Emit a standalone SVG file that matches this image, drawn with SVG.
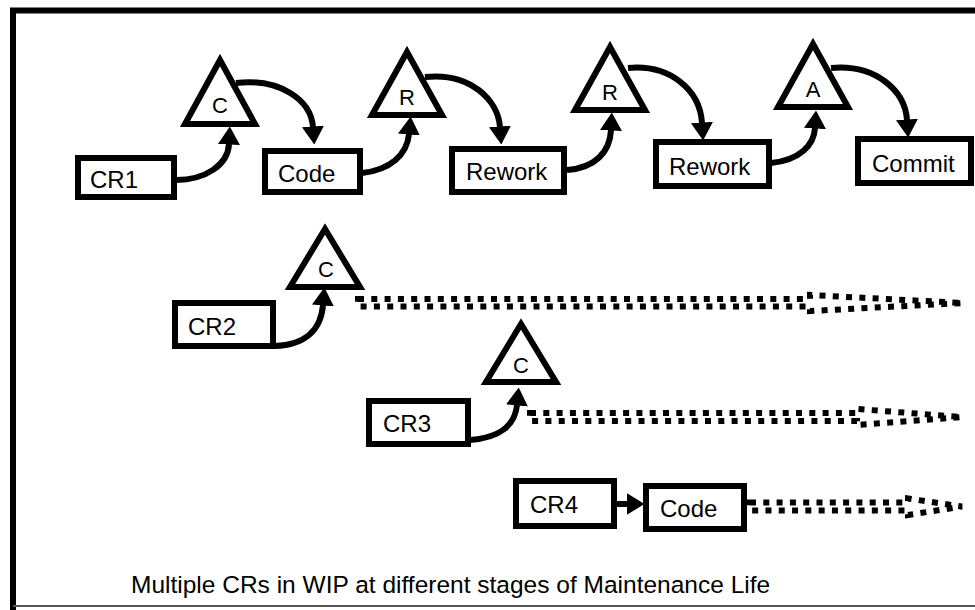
<svg xmlns="http://www.w3.org/2000/svg" width="975" height="610" viewBox="0 0 975 610">
<defs>
<marker id="ah" markerUnits="userSpaceOnUse" markerWidth="18" markerHeight="22" viewBox="0 0 18 22" refX="0.5" refY="11" orient="auto">
<path d="M0,0 L18,11 L0,22 Z" fill="#000"/>
</marker>
<style>
.box{fill:#fff;stroke:#000;stroke-width:6}
.tri{fill:#fff;stroke:#000;stroke-width:6;stroke-linejoin:miter}
.lbl{font-family:"Liberation Sans",Arial,sans-serif;font-size:24px;fill:#000}
.tl{font-family:"Liberation Sans",Arial,sans-serif;font-size:22px;fill:#000;text-anchor:middle}
.con{fill:none;stroke:#000;stroke-width:6;marker-end:url(#ah)}
.dot{fill:none;stroke:#000;stroke-width:6;stroke-dasharray:6 7.3}
</style>
</defs>
<rect width="975" height="610" fill="#fff"/>
<g id="frame">
<path d="M13,610 V10.5 H980" fill="none" stroke="#000" stroke-width="6"/>
<line x1="13" y1="606" x2="975" y2="606" stroke="#555" stroke-width="2"/>
</g>
<g id="connectors">
<path class="con" d="M176,180 C205,180 228,165 229,144"/>
<path class="con" d="M236,83 C280,78 311,100 313,127"/>
<path class="con" d="M362,173 C390,170 407,155 409,134"/>
<path class="con" d="M425,77 C470,72 498,100 500,127"/>
<path class="con" d="M567,170 C595,168 610,152 611,130"/>
<path class="con" d="M628,68 C670,64 700,90 702,123"/>
<path class="con" d="M771,163 C800,160 814,145 815,128"/>
<path class="con" d="M831,68 C875,64 905,90 907,120"/>
<path class="con" d="M275,346 C305,345 321,330 323,305"/>
<path class="con" d="M470,440 C500,438 515,425 517,405"/>
<path class="con" d="M616,504 H627"/>
<path class="dot" d="M358,299 H810 V295 L963,303 L810,311 V306.5 H358 Z"/>
<path class="dot" d="M530,413 H857 V409 L962,417 L857,425 V421 H530 Z"/>
<path class="dot" d="M750,502.5 H908 V498.5 L962,506.5 L908,515 V510.5 H750 Z"/>
</g>
<g id="cr1"><rect class="box" x="78" y="158" width="96" height="39"/><text class="lbl" x="90" y="188">CR1</text></g>
<g id="tri-c1"><polygon class="tri" points="220,60 185,124 255,124"/><text class="tl" x="220" y="113">C</text></g>
<g id="code1"><rect class="box" x="265" y="151" width="95" height="41"/><text class="lbl" x="278" y="182">Code</text></g>
<g id="tri-r1"><polygon class="tri" points="407,52 372,115 442,115"/><text class="tl" x="407" y="105">R</text></g>
<g id="rework1"><rect class="box" x="452" y="149" width="112" height="43"/><text class="lbl" x="466" y="180">Rework</text></g>
<g id="tri-r2"><polygon class="tri" points="610,47 575,110 645,110"/><text class="tl" x="610" y="100">R</text></g>
<g id="rework2"><rect class="box" x="656" y="142" width="113" height="44"/><text class="lbl" x="669" y="175">Rework</text></g>
<g id="tri-a"><polygon class="tri" points="813,44 778,107 848,107"/><text class="tl" x="813" y="97">A</text></g>
<g id="commit"><rect class="box" x="858" y="139" width="113" height="44"/><text class="lbl" x="872" y="172">Commit</text></g>
<g id="cr2"><rect class="box" x="175" y="303" width="98" height="43"/><text class="lbl" x="188" y="335">CR2</text></g>
<g id="tri-c2"><polygon class="tri" points="325,229 290,287 360,287"/><text class="tl" x="326" y="277">C</text></g>
<g id="cr3"><rect class="box" x="369" y="401" width="99" height="43"/><text class="lbl" x="383" y="432">CR3</text></g>
<g id="tri-c3"><polygon class="tri" points="521,324 486,382 556,382"/><text class="tl" x="521" y="373">C</text></g>
<g id="cr4"><rect class="box" x="516" y="481" width="98" height="45"/><text class="lbl" x="530" y="513">CR4</text></g>
<g id="code2"><rect class="box" x="646" y="486" width="98" height="43"/><text class="lbl" x="660" y="517">Code</text></g>
<text class="lbl" x="131" y="593" style="font-size:24.5px">Multiple CRs in WIP at different stages of Maintenance Life</text>
</svg>
